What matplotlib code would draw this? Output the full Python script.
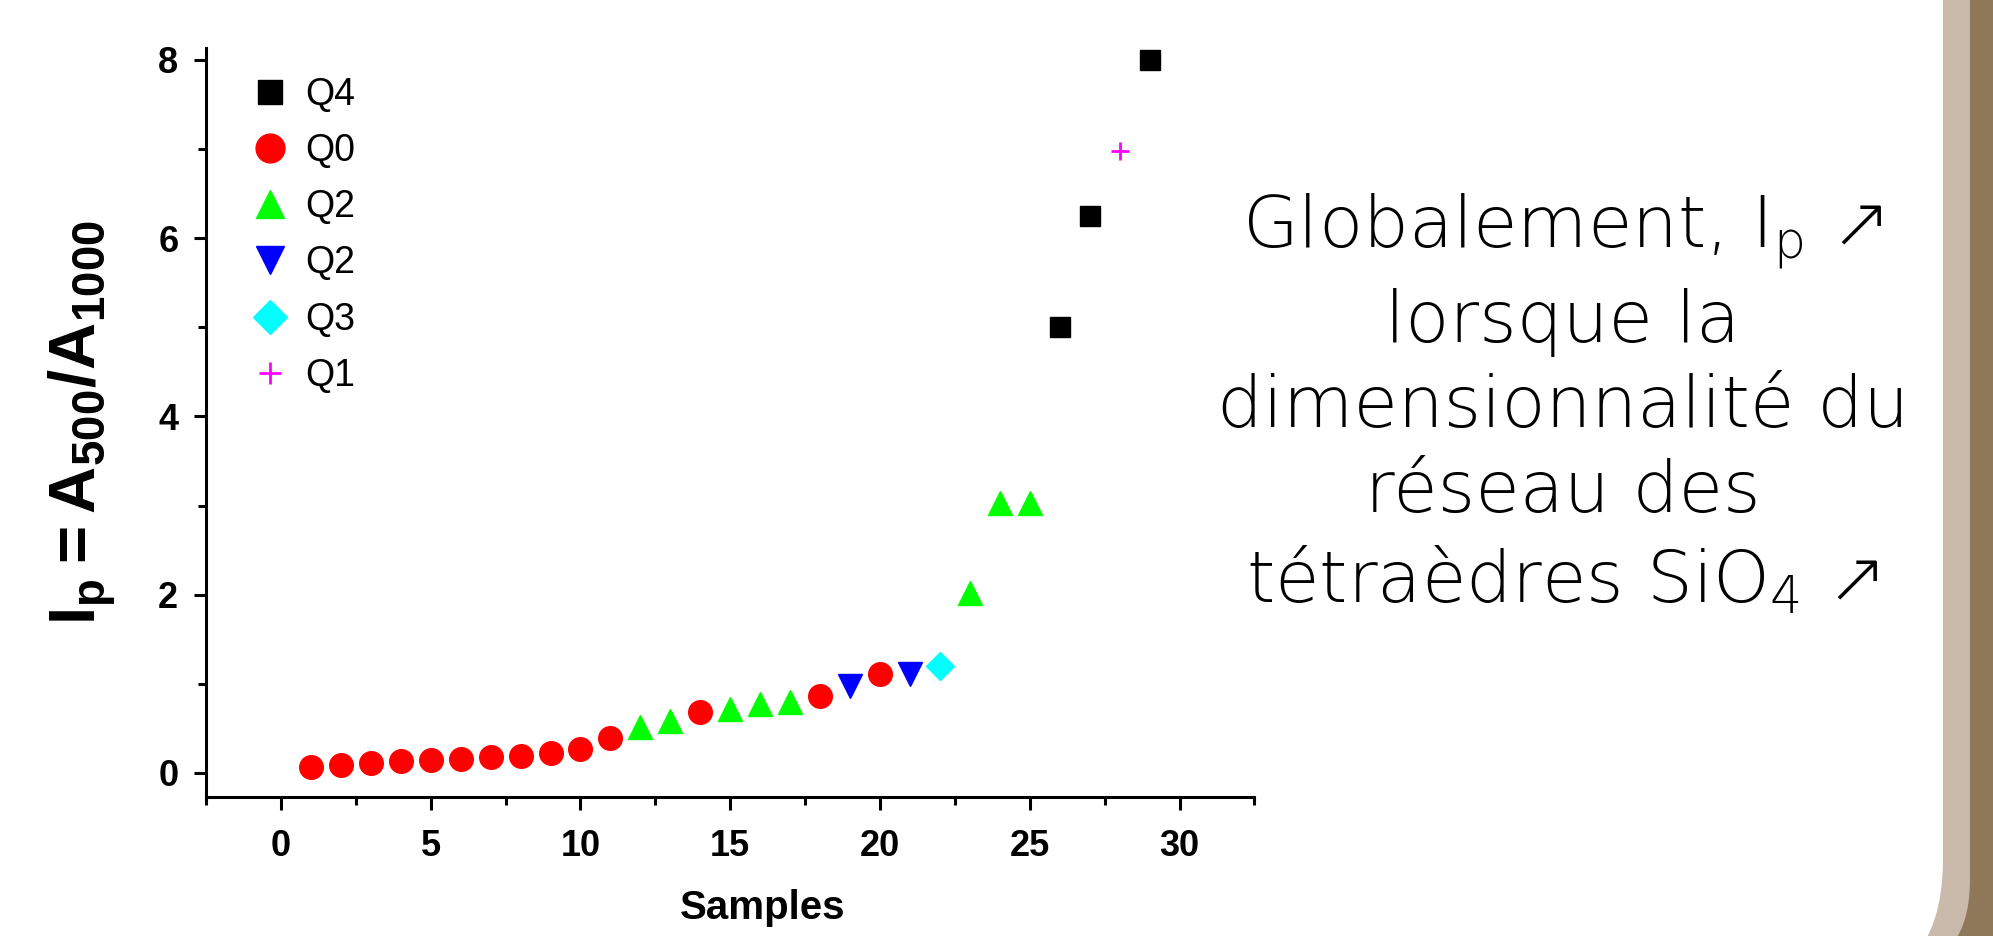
import matplotlib
matplotlib.use('Agg')
import matplotlib.pyplot as plt
from matplotlib.patches import FancyBboxPatch
from matplotlib.transforms import IdentityTransform
from matplotlib.ticker import MultipleLocator

# valeurs (Ip = A500/A1000 par échantillon)
q4_x = [26, 27, 29]
q4_y = [5.0, 6.25, 8.0]
q0_x = [1, 2, 3, 4, 5, 6, 7, 8, 9, 10, 11, 14, 18, 20]
q0_y = [0.07, 0.09, 0.11, 0.13, 0.15, 0.16, 0.18, 0.19, 0.22, 0.27, 0.39, 0.68, 0.86, 1.11]
q2a_x = [12, 13, 15, 16, 17, 23, 24, 25]
q2a_y = [0.52, 0.58, 0.72, 0.77, 0.80, 2.02, 3.03, 3.03]
q2b_x = [19, 21]
q2b_y = [0.97, 1.11]
q3_x = [22]
q3_y = [1.2]
q1_x = [28]
q1_y = [6.98]

texte = ("Globalement, I$_{\\mathrm{p}}$ \u2197\nlorsque la\ndimensionnalité du\n"
         "réseau des\ntétraèdres SiO$_{4}$ \u2197")

plt.rcParams['font.family'] = ['Liberation Sans', 'DejaVu Sans']
plt.rcParams['mathtext.fontset'] = 'custom'
plt.rcParams['mathtext.rm'] = 'DejaVu Sans:light'
plt.rcParams['mathtext.it'] = 'DejaVu Sans:italic'
plt.rcParams['mathtext.bf'] = 'Liberation Sans:bold'

fig = plt.figure(figsize=(19.93, 9.36), dpi=100, facecolor='#8F785A')

# fond de diapo : bandes beige / brun avec coin arrondi
beige = FancyBboxPatch((-300, -40), 2270, 1200, boxstyle='round,pad=0,rounding_size=96',
                       transform=IdentityTransform(), facecolor='#C8B9AB', edgecolor='none', zorder=-3)
blanc = FancyBboxPatch((-300, -61), 2243, 1200, boxstyle='round,pad=0,rounding_size=137',
                       transform=IdentityTransform(), facecolor='white', edgecolor='none', zorder=-2)
fig.add_artist(beige)
fig.add_artist(blanc)

ax = fig.add_axes([0.1034, 0.1485, 0.526, 0.800])
ax.set_facecolor('none')

ax.plot(q4_x, q4_y, 's', color='black', ms=14, ls='none', label='Q4')
ax.plot(q0_x, q0_y, 'o', color='#FF0000', ms=17, ls='none', label='Q0')
ax.plot(q2a_x, q2a_y, '^', color='#00FF00', ms=17, ls='none', label='Q2')
ax.plot(q2b_x, q2b_y, 'v', color='#0000FF', ms=17, ls='none', label='Q2')
ax.plot(q3_x, q3_y, 'D', color='#00FFFF', ms=14, ls='none', label='Q3')
ax.plot(q1_x, q1_y, '+', color='#FF00FF', ms=13, mew=2, ls='none', label='Q1')

ax.set_xlim(-2.5, 32.5)
ax.set_ylim(-0.27, 8.13)
ax.xaxis.set_major_locator(MultipleLocator(5))
ax.xaxis.set_minor_locator(MultipleLocator(2.5))
ax.yaxis.set_major_locator(MultipleLocator(2))
ax.yaxis.set_minor_locator(MultipleLocator(1))

for s in ['top', 'right']:
    ax.spines[s].set_visible(False)
for s in ['left', 'bottom']:
    ax.spines[s].set_linewidth(2.2)

ax.tick_params(which='major', direction='out', length=9, width=2.2, labelsize=26)
ax.tick_params(which='minor', direction='out', length=6, width=2.2)
ax.tick_params(axis='x', which='major', pad=14)
ax.tick_params(axis='y', which='major', pad=11)
for lab in ax.get_xticklabels() + ax.get_yticklabels():
    lab.set_fontweight('bold')

ax.set_xlabel('Samples', fontsize=29, fontweight='bold')
ax.xaxis.set_label_coords(0.531, -0.148)
ax.xaxis.label.set_va('center')
ax.set_ylabel(r'$\mathbf{I_p = A_{500}/A_{1000}}$', fontsize=47)
ax.yaxis.set_label_coords(-0.117, 0.5)
ax.yaxis.label.set_va('center')

ax.legend(loc='upper left', bbox_to_anchor=(0.043, 0.962), frameon=False, fontsize=27,
          borderpad=0, borderaxespad=0, handlelength=1.0, handletextpad=0.44,
          labelspacing=0.54, markerscale=1.22)

fig.text(0.784, 0.568, texte, ha='center', va='center', fontsize=52,
         family='DejaVu Sans', fontweight='light', linespacing=1.3, color='black')

fig.savefig('out.png', dpi=100, facecolor=fig.get_facecolor())
